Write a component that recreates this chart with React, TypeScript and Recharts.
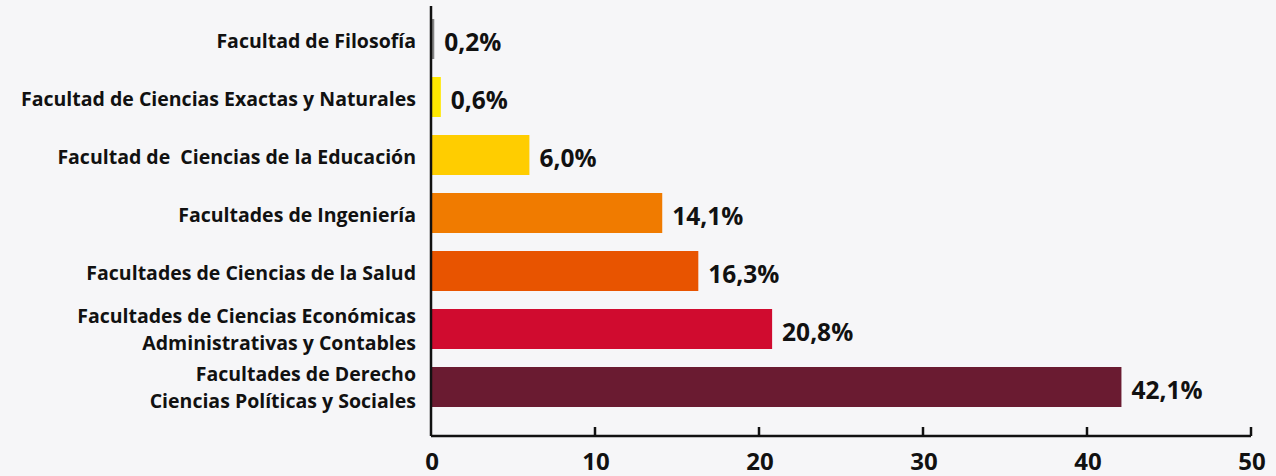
import { BarChart, Bar, XAxis, YAxis, Cell, LabelList } from "recharts";

const categories = [
  "Facultad de Filosofía",
  "Facultad de Ciencias Exactas y Naturales",
  "Facultad de  Ciencias de la Educación",
  "Facultades de Ingeniería",
  "Facultades de Ciencias de la Salud",
  "Facultades de Ciencias Económicas\nAdministrativas y Contables",
  "Facultades de Derecho\nCiencias Políticas y Sociales",
];

const values = [0.2, 0.6, 6.0, 14.1, 16.3, 20.8, 42.1];

const colors = [
  "#858585",
  "#ffe800",
  "#ffcd00",
  "#f07b00",
  "#e85400",
  "#d00b2f",
  "#6a1b31",
];

const xTicks = [0, 10, 20, 30, 40, 50];

const data = categories.map((name, i) => ({ name, value: values[i] }));

const FONT = "'Open Sans', Lato, sans-serif";

function CategoryTick(props: any) {
  const { x, y, payload } = props;
  const lines = String(payload.value).split("\n");
  const lh = 27;
  const start = y - ((lines.length - 1) * lh) / 2 + (lines.length > 1 ? -1 : 1);
  return (
    <text
      x={x - 15}
      y={start}
      textAnchor="end"
      dominantBaseline="central"
      fill="#111"
      fontFamily={FONT}
      fontWeight={700}
      fontSize={19.5}
      style={{ whiteSpace: "pre" }}
    >
      {lines.map((l, i) => (
        <tspan key={i} x={x - 15} y={start + i * lh}>
          {l}
        </tspan>
      ))}
    </text>
  );
}

function NumberTick(props: any) {
  const { x, y, payload } = props;
  return (
    <g>
      {payload.value !== 0 && (
        <line x1={x} y1={y - 9} x2={x} y2={y} stroke="#111" strokeWidth={2.5} />
      )}
      <text
        x={x + 1}
        y={y + 24}
        textAnchor="middle"
        dominantBaseline="central"
        fill="#111"
        fontFamily={FONT}
        fontWeight={700}
        fontSize={24}
      >
        {payload.value}
      </text>
    </g>
  );
}

function ValueLabel(props: any) {
  const { x, y, width, height, value } = props;
  return (
    <text
      x={x + width + 10}
      y={y + height / 2 + 2}
      dominantBaseline="central"
      fill="#111"
      fontFamily={FONT}
      fontWeight={700}
      fontSize={24.5}
    >
      {value.toFixed(1).replace(".", ",")}%
    </text>
  );
}

export default function App() {
  return (
    <div
      style={{
        position: "fixed",
        left: 0,
        top: 0,
        width: 1276,
        height: 476,
        background: "#f6f6f8",
      }}
    >
      <BarChart
        width={1276}
        height={476}
        data={data}
        layout="vertical"
        margin={{ top: 6, right: 25, bottom: 0, left: 0 }}
        barSize={40}
      >
        <XAxis
          type="number"
          domain={[0, 50]}
          ticks={xTicks}
          interval={0}
          height={40}
          tickSize={0}
          tickMargin={0}
          tickLine={false}
          axisLine={{ stroke: "#111", strokeWidth: 2.5 }}
          tick={<NumberTick />}
        />
        <YAxis
          type="category"
          dataKey="name"
          width={431}
          interval={0}
          tickSize={0}
          tickMargin={0}
          tickLine={false}
          padding={{ top: 4, bottom: 20 }}
          axisLine={{ stroke: "#111", strokeWidth: 2.5 }}
          tick={<CategoryTick />}
        />
        <Bar dataKey="value" isAnimationActive={false}>
          {data.map((_, i) => (
            <Cell key={i} fill={colors[i]} />
          ))}
          <LabelList dataKey="value" content={<ValueLabel />} />
        </Bar>
      </BarChart>
    </div>
  );
}
